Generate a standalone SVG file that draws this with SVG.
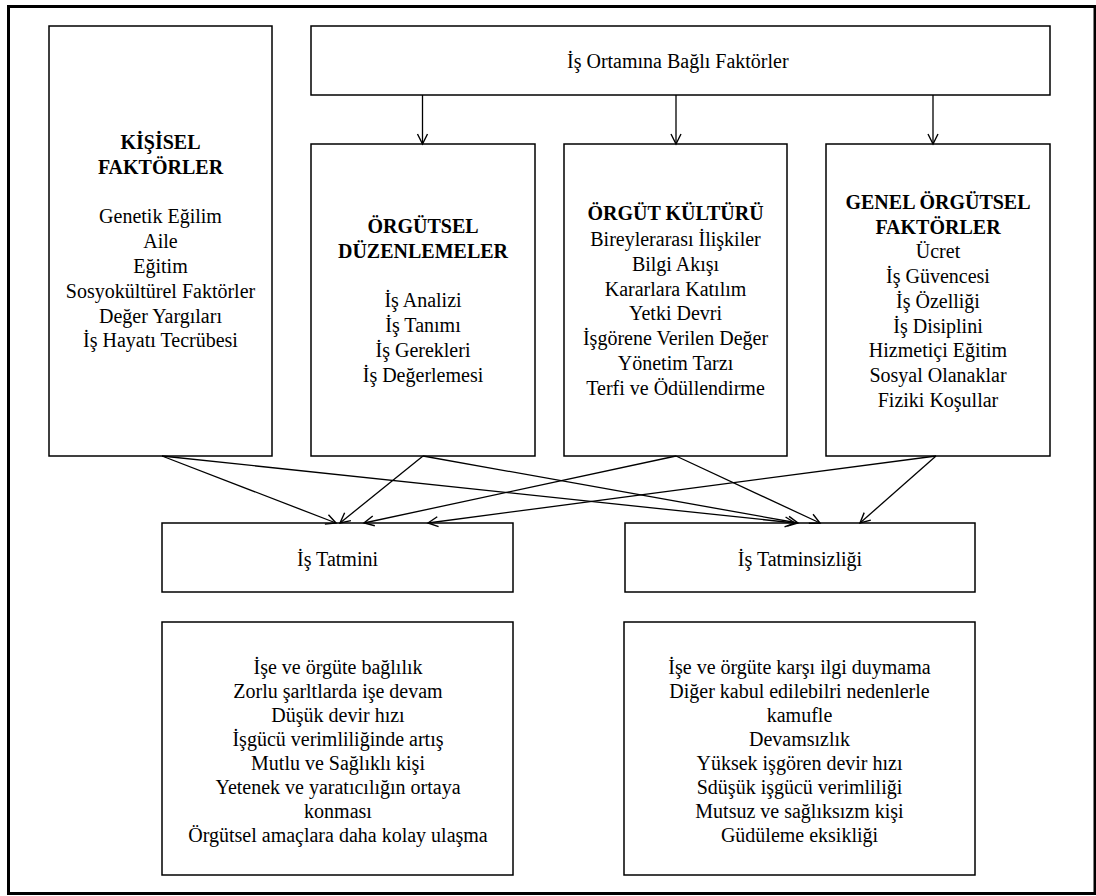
<svg xmlns="http://www.w3.org/2000/svg" width="1096" height="896" viewBox="0 0 1096 896">
<style>
.box{fill:#fff;stroke:#000;stroke-width:1.5}
.t{font-family:"Liberation Serif","Times New Roman",serif;font-size:20px;fill:#000;text-anchor:middle}
.b{font-weight:bold}
.c{fill:none;stroke:#000;stroke-width:1.3}
</style>
<defs>
<marker id="ah" markerUnits="userSpaceOnUse" markerWidth="14" markerHeight="14" refX="11" refY="6" orient="auto">
<path d="M1,1 L11,6 L1,11" fill="none" stroke="#000" stroke-width="1.4"/>
</marker>
</defs>
<rect x="0" y="0" width="1096" height="896" fill="#fff"/>
<rect id="frame" x="8.5" y="6.5" width="1086.5" height="887" fill="none" stroke="#000" stroke-width="3"/>

<g id="kisisel">
<rect class="box" x="49" y="26" width="223" height="430"/>
<text class="t b" x="160.5" y="149">KİŞİSEL</text>
<text class="t b" x="160.5" y="174">FAKTÖRLER</text>
<text class="t" x="160.5" y="223">Genetik Eğilim</text>
<text class="t" x="160.5" y="248">Aile</text>
<text class="t" x="160.5" y="273">Eğitim</text>
<text class="t" x="160.5" y="298">Sosyokültürel Faktörler</text>
<text class="t" x="160.5" y="323">Değer Yargıları</text>
<text class="t" x="160.5" y="347">İş Hayatı Tecrübesi</text>
</g>

<g id="is-ortami">
<rect class="box" x="311" y="26" width="739" height="69"/>
<text class="t" x="567" y="68" style="text-anchor:start">İş Ortamına Bağlı Faktörler</text>
</g>

<g id="orgutsel-duzenlemeler">
<rect class="box" x="311" y="144" width="224" height="312"/>
<text class="t b" x="423" y="233">ÖRGÜTSEL</text>
<text class="t b" x="423" y="258">DÜZENLEMELER</text>
<text class="t" x="423" y="307">İş Analizi</text>
<text class="t" x="423" y="332">İş Tanımı</text>
<text class="t" x="423" y="357">İş Gerekleri</text>
<text class="t" x="423" y="382">İş Değerlemesi</text>
</g>

<g id="orgut-kulturu">
<rect class="box" x="564" y="144" width="223" height="312"/>
<text class="t b" x="675.5" y="220">ÖRGÜT KÜLTÜRÜ</text>
<text class="t" x="675.5" y="246">Bireylerarası İlişkiler</text>
<text class="t" x="675.5" y="271">Bilgi Akışı</text>
<text class="t" x="675.5" y="296">Kararlara Katılım</text>
<text class="t" x="675.5" y="320">Yetki Devri</text>
<text class="t" x="675.5" y="345">İşgörene Verilen Değer</text>
<text class="t" x="675.5" y="370">Yönetim Tarzı</text>
<text class="t" x="675.5" y="395">Terfi ve Ödüllendirme</text>
</g>

<g id="genel-orgutsel">
<rect class="box" x="826" y="144" width="224" height="312"/>
<text class="t b" x="938" y="209">GENEL ÖRGÜTSEL</text>
<text class="t b" x="938" y="234">FAKTÖRLER</text>
<text class="t" x="938" y="258">Ücret</text>
<text class="t" x="938" y="283">İş Güvencesi</text>
<text class="t" x="938" y="308">İş Özelliği</text>
<text class="t" x="938" y="333">İş Disiplini</text>
<text class="t" x="938" y="357">Hizmetiçi Eğitim</text>
<text class="t" x="938" y="382">Sosyal Olanaklar</text>
<text class="t" x="938" y="407">Fiziki Koşullar</text>
</g>

<g id="is-tatmini">
<rect class="box" x="162" y="523" width="351" height="69"/>
<text class="t" x="337.5" y="566">İş Tatmini</text>
</g>

<g id="is-tatminsizligi">
<rect class="box" x="625" y="523" width="350" height="69"/>
<text class="t" x="800" y="566">İş Tatminsizliği</text>
</g>

<g id="tatmin-sonuclari">
<rect class="box" x="162" y="622" width="351" height="253"/>
<text class="t" x="338" y="674">İşe ve örgüte bağlılık</text>
<text class="t" x="338" y="698">Zorlu şarltlarda işe devam</text>
<text class="t" x="338" y="722">Düşük devir hızı</text>
<text class="t" x="338" y="746">İşgücü verimliliğinde artış</text>
<text class="t" x="338" y="770">Mutlu ve Sağlıklı kişi</text>
<text class="t" x="338" y="794">Yetenek ve yaratıcılığın ortaya</text>
<text class="t" x="338" y="818">konması</text>
<text class="t" x="338" y="842">Örgütsel amaçlara daha kolay ulaşma</text>
</g>

<g id="tatminsizlik-sonuclari">
<rect class="box" x="624" y="622" width="351" height="253"/>
<text class="t" x="799.5" y="674">İşe ve örgüte karşı ilgi duymama</text>
<text class="t" x="799.5" y="698">Diğer kabul edilebilri nedenlerle</text>
<text class="t" x="799.5" y="722">kamufle</text>
<text class="t" x="799.5" y="746">Devamsızlık</text>
<text class="t" x="799.5" y="770">Yüksek işgören devir hızı</text>
<text class="t" x="799.5" y="794">Sdüşük işgücü verimliliği</text>
<text class="t" x="799.5" y="818">Mutsuz ve sağlıksızm kişi</text>
<text class="t" x="799.5" y="842">Güdüleme eksikliği</text>
</g>

<g id="connectors">
<line class="c" x1="422.5" y1="95" x2="422.5" y2="144" marker-end="url(#ah)"/>
<line class="c" x1="676" y1="95" x2="676" y2="144" marker-end="url(#ah)"/>
<line class="c" x1="933" y1="95" x2="933" y2="144" marker-end="url(#ah)"/>
<line class="c" x1="162" y1="456" x2="336" y2="523" marker-end="url(#ah)"/>
<line class="c" x1="162" y1="456" x2="795" y2="523" marker-end="url(#ah)"/>
<line class="c" x1="423" y1="456" x2="340" y2="523" marker-end="url(#ah)"/>
<line class="c" x1="423" y1="456" x2="798" y2="523" marker-end="url(#ah)"/>
<line class="c" x1="676" y1="456" x2="364" y2="523" marker-end="url(#ah)"/>
<line class="c" x1="676" y1="456" x2="820" y2="523" marker-end="url(#ah)"/>
<line class="c" x1="936" y1="456" x2="428" y2="523" marker-end="url(#ah)"/>
<line class="c" x1="936" y1="456" x2="860" y2="523" marker-end="url(#ah)"/>
</g>
</svg>
